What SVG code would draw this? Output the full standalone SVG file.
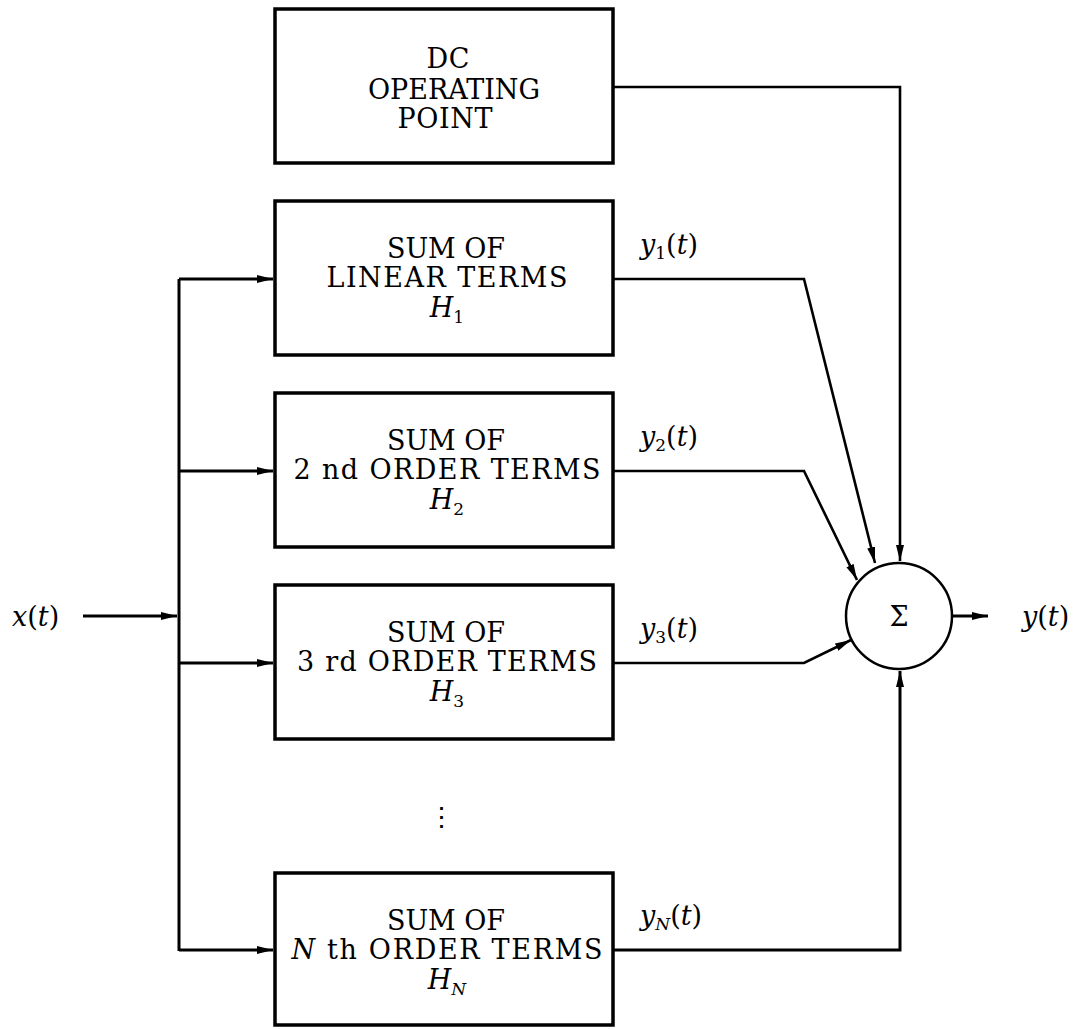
<svg xmlns="http://www.w3.org/2000/svg" width="1081" height="1029" viewBox="0 0 1081 1029">
<style>
.box{fill:#fff;stroke:#000;stroke-width:3.5}
.ln{fill:none;stroke:#000;stroke-width:3}
.ln2{fill:none;stroke:#000;stroke-width:2.6}
text{font-family:"DejaVu Serif","Liberation Serif",serif;font-size:27px;fill:#000}
.c{text-anchor:middle}
.i{font-style:italic}
.s{font-size:17px}
</style>
<defs>
<marker id="ah2" markerWidth="18" markerHeight="8" refX="16" refY="4" orient="auto" markerUnits="userSpaceOnUse">
<path d="M0,0 L16,4 L0,8 Z" fill="#000"/>
</marker>
</defs>
<g id="connectors">
<line class="ln" x1="83" y1="616" x2="177" y2="616" marker-end="url(#ah2)"/>
<line class="ln" x1="179" y1="279" x2="179" y2="951"/>
<line class="ln" x1="179" y1="279" x2="273" y2="279" marker-end="url(#ah2)"/>
<line class="ln" x1="179" y1="471" x2="273" y2="471" marker-end="url(#ah2)"/>
<line class="ln" x1="179" y1="663" x2="273" y2="663" marker-end="url(#ah2)"/>
<line class="ln" x1="179" y1="950" x2="273" y2="950" marker-end="url(#ah2)"/>
<polyline class="ln2" points="613,87 900,87 900,561" marker-end="url(#ah2)"/>
<polyline class="ln2" points="613,279 804,279 875,563" marker-end="url(#ah2)"/>
<polyline class="ln2" points="613,471 804,471 857,580" marker-end="url(#ah2)"/>
<polyline class="ln2" points="613,663 804,663 851,640" marker-end="url(#ah2)"/>
<polyline class="ln" points="613,950 900,950 900,671" marker-end="url(#ah2)"/>
<line class="ln" x1="953" y1="616" x2="988" y2="616" marker-end="url(#ah2)"/>
</g>
<g id="dc">
<rect class="box" x="275" y="9" width="338" height="154"/>
<text class="c" x="448" y="68" textLength="43" lengthAdjust="spacing">DC</text>
<text class="c" x="454" y="99" textLength="172" lengthAdjust="spacing">OPERATING</text>
<text class="c" x="445" y="128" textLength="95" lengthAdjust="spacing">POINT</text>
</g>
<g id="h1">
<rect class="box" x="275" y="201" width="338" height="154"/>
<text class="c" x="446" y="258" textLength="118" lengthAdjust="spacing">SUM OF</text>
<text class="c" x="447" y="287" textLength="241" lengthAdjust="spacing">LINEAR TERMS</text>
<text class="c" x="447" y="317"><tspan class="i">H</tspan><tspan class="s" dy="6">1</tspan></text>
</g>
<g id="h2">
<rect class="box" x="275" y="393" width="338" height="154"/>
<text class="c" x="446" y="450" textLength="118" lengthAdjust="spacing">SUM OF</text>
<text class="c" x="447" y="479" textLength="307" lengthAdjust="spacing">2 nd ORDER TERMS</text>
<text class="c" x="447" y="509"><tspan class="i">H</tspan><tspan class="s" dy="6">2</tspan></text>
</g>
<g id="h3">
<rect class="box" x="275" y="585" width="338" height="154"/>
<text class="c" x="446" y="642" textLength="118" lengthAdjust="spacing">SUM OF</text>
<text class="c" x="447" y="671" textLength="300" lengthAdjust="spacing">3 rd ORDER TERMS</text>
<text class="c" x="447" y="701"><tspan class="i">H</tspan><tspan class="s" dy="6">3</tspan></text>
</g>
<g id="dots">
<text x="441" y="826" text-anchor="middle">⋮</text>
</g>
<g id="hn">
<rect class="box" x="275" y="873" width="338" height="152"/>
<text class="c" x="446" y="930" textLength="118" lengthAdjust="spacing">SUM OF</text>
<text class="c" x="447" y="959" textLength="311" lengthAdjust="spacing"><tspan class="i">N</tspan> th ORDER TERMS</text>
<text class="c" x="447" y="989"><tspan class="i">H</tspan><tspan class="s i" dy="6">N</tspan></text>
</g>
<g id="sum">
<circle cx="899" cy="616" r="53" fill="#fff" stroke="#000" stroke-width="2.5"/>
<text x="899" y="626" text-anchor="middle">Σ</text>
</g>
<g id="labels">
<text x="12" y="626"><tspan class="i">x</tspan>(<tspan class="i">t</tspan>)</text>
<text x="1022" y="626"><tspan class="i">y</tspan>(<tspan class="i">t</tspan>)</text>
<text x="640" y="254"><tspan class="i">y</tspan><tspan class="s" dy="5">1</tspan><tspan dy="-5">(</tspan><tspan class="i">t</tspan>)</text>
<text x="640" y="446"><tspan class="i">y</tspan><tspan class="s" dy="5">2</tspan><tspan dy="-5">(</tspan><tspan class="i">t</tspan>)</text>
<text x="640" y="638"><tspan class="i">y</tspan><tspan class="s" dy="5">3</tspan><tspan dy="-5">(</tspan><tspan class="i">t</tspan>)</text>
<text x="640" y="925"><tspan class="i">y</tspan><tspan class="s i" dy="5">N</tspan><tspan dy="-5">(</tspan><tspan class="i">t</tspan>)</text>
</g>
</svg>
